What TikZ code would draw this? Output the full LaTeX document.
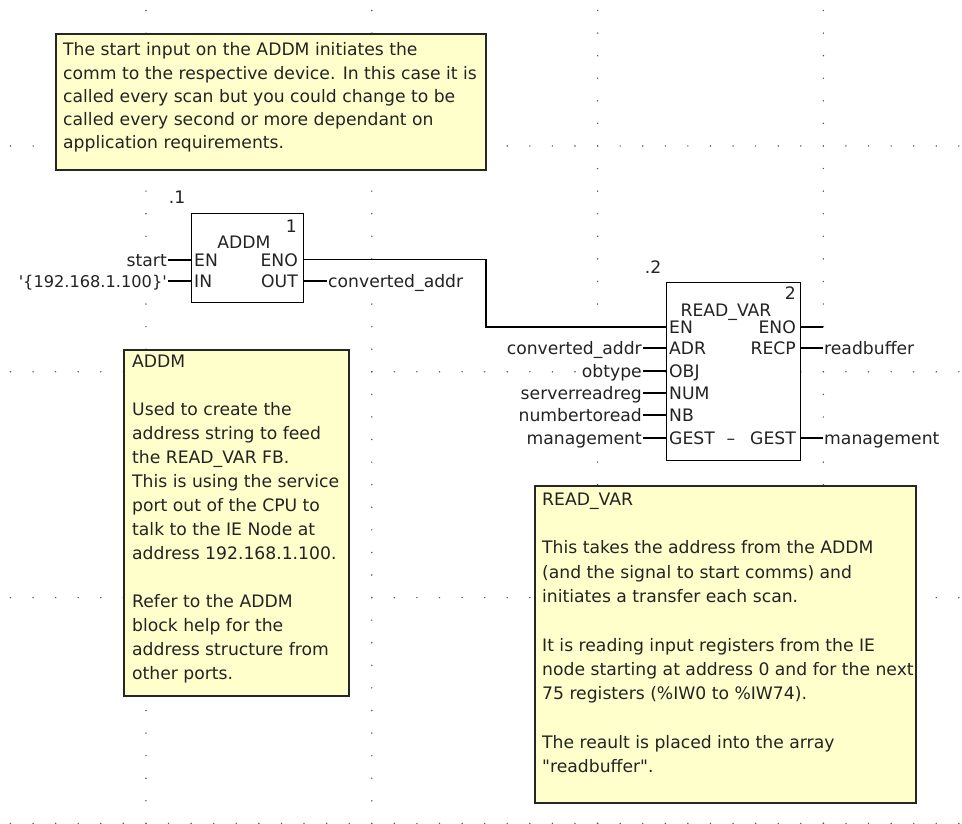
\documentclass[tikz,border=0pt]{standalone}
\usepackage{fontspec}
\setmainfont{DejaVu Sans}
\definecolor{notey}{RGB}{255,255,204}
\definecolor{txt}{RGB}{35,35,35}
\begin{document}
\begin{tikzpicture}[x=1pt,y=-1pt,
  every node/.style={text=txt},
  fs/.style={font=\fontsize{17.2}{23.5}\selectfont},
  dotc/.style={fill=black!65},
  notebox/.style={draw=black!85, line width=1.6pt, fill=notey, inner sep=0pt, anchor=north west},
  notetext/.style={anchor=north west, align=left, inner sep=0pt},
  fbbox/.style={draw=black, line width=1.3pt, fill=white, inner sep=0pt, anchor=north west},
  wire/.style={line width=1.2pt, draw=black},
  pinl/.style={fs, anchor=base west, inner sep=0pt},
  pinr/.style={fs, anchor=base east, inner sep=0pt},
  pinc/.style={fs, anchor=base, inner sep=0pt},
  varl/.style={fs, inner sep=1pt, fill=white, anchor=base east},
  varr/.style={fs, inner sep=1pt, fill=white, anchor=base west},
]
\useasboundingbox (0,0) rectangle (962,824);
\fill[white] (0,0) rectangle (962,824);

% grid of dots
\foreach \j in {6,16,26,36}{
  \foreach \i in {0,...,42}{ \fill[dotc] ({10.5+22.58*\i},{10.5+22.58*\j}) circle (0.8pt); } }
\foreach \j in {6,16,26,36}{
  \foreach \i in {0,...,36}{ \fill[dotc] ({10.5+22.58*\j},{10.5+22.58*\i}) circle (0.8pt); } }

% top comment
\node[notebox, minimum width=430pt, minimum height=136pt] (cmt) at (55,33) {};
\node[notetext, font=\fontsize{17.2}{23.3}\selectfont] (cmtt) at (63,42.5)
 {The start input on the ADDM initiates the\\comm to the respective device. In this case it is\\called every scan but you could change to be\\called every second or more dependant on\\application requirements.};

% ADDM block
\node[fbbox, minimum width=112pt, minimum height=89pt] (addm) at (191,213) {};
\node[pinc] (lbl1) at (177,204) {.1};
\node[pinr] (addmnum) at (297,233) {1};
\node[pinc] (addmname) at (244,248) {ADDM};
\node[pinl] (addmen) at (194,266) {EN};
\node[pinr] (addmeno) at (298,266) {ENO};
\node[pinl] (addmin) at (194,287) {IN};
\node[pinr] (addmout) at (298,287) {OUT};
\coordinate (a-en) at (191,260);
\coordinate (a-in) at (191,281);
\coordinate (a-eno) at (303,259.5);
\coordinate (a-out) at (303,281);

\node[varl] (start) at (168,266) {start};
\node[varl, font=\fontsize{16.2}{23.5}\selectfont] (ip) at (168,287) {\textquotesingle\{192.168.1.100\}\textquotesingle};
\node[varr] (conv) at (327,287) {converted\_addr};
\draw[wire] (start.east |- a-en) -- (a-en);
\draw[wire] (ip.east |- a-in) -- (a-in);
\draw[wire] (a-out) -- (conv.west |- a-out);

% READ_VAR block
\node[fbbox, minimum width=134pt, minimum height=178pt] (rv) at (666,282) {};
\node[pinc] (lbl2) at (653,273) {.2};
\node[pinr] (rvnum) at (796,299) {2};
\node[pinc] (rvname) at (726,316) {READ\_VAR};
\node[pinl] (rven) at (669,333) {EN};
\node[pinl] (rvadr) at (669,354) {ADR};
\node[pinl] (rvobj) at (669,377) {OBJ};
\node[pinl] (rvnum2) at (669,399) {NUM};
\node[pinl] (rvnb) at (669,421) {NB};
\node[pinl] (rvgest) at (669,444) {GEST};
\node[pinc] (rvdash) at (731,444) {\textendash};
\node[pinr] (rveno) at (796,333) {ENO};
\node[pinr] (rvrecp) at (796,354) {RECP};
\node[pinr] (rvgesto) at (796,444) {GEST};

\coordinate (r-en) at (666,327);
\coordinate (r-adr) at (666,348);
\coordinate (r-obj) at (666,371);
\coordinate (r-num) at (666,393);
\coordinate (r-nb) at (666,415);
\coordinate (r-gest) at (666,438);
\coordinate (r-eno) at (800,327);
\coordinate (r-recp) at (800,348);
\coordinate (r-gesto) at (800,438);
\coordinate (r-enoend) at (823,327);
\coordinate (bend) at (486,327);

\draw[wire] (a-eno) -| (bend) -- (r-en);
\draw[wire] (r-eno) -- (r-enoend);

\node[varl] (vadr) at (643,354) {converted\_addr};
\node[varl] (vobj) at (643,377) {obtype};
\node[varl] (vnum) at (643,399) {serverreadreg};
\node[varl] (vnb) at (643,421) {numbertoread};
\node[varl] (vgest) at (643,444) {management};
\node[varr] (vrecp) at (823,354) {readbuffer};
\node[varr] (vgesto) at (823,444) {management};
\draw[wire] (vadr.east |- r-adr) -- (r-adr);
\draw[wire] (vobj.east |- r-obj) -- (r-obj);
\draw[wire] (vnum.east |- r-num) -- (r-num);
\draw[wire] (vnb.east |- r-nb) -- (r-nb);
\draw[wire] (vgest.east |- r-gest) -- (r-gest);
\draw[wire] (r-recp) -- (vrecp.west |- r-recp);
\draw[wire] (r-gesto) -- (vgesto.west |- r-gesto);

% ADDM note
\node[notebox, minimum width=225pt, minimum height=346pt] (an) at (123,349) {};
\node[notetext, font=\fontsize{17.2}{24}\selectfont] (ant) at (132,354.5)
 {ADDM\\[24pt]Used to create the\\address string to feed\\the READ\_VAR FB.\\This is using the service\\port out of the CPU to\\talk to the IE Node at\\address 192.168.1.100.\\[24pt]Refer to the ADDM\\block help for the\\address structure from\\other ports.};

% READ_VAR note
\node[notebox, minimum width=381pt, minimum height=317pt] (rn) at (534,485) {};
\node[notetext, font=\fontsize{17.2}{24.3}\selectfont] (rnt) at (542,492.5)
 {READ\_VAR\\[24.3pt]This takes the address from the ADDM\\(and the signal to start comms) and\\initiates a transfer each scan.\\[24.3pt]It is reading input registers from the IE\\node starting at address 0 and for the next\\75 registers (\%IW0 to \%IW74).\\[24.3pt]The reault is placed into the array\\\textquotedbl readbuffer\textquotedbl.};
\end{tikzpicture}
\end{document}
